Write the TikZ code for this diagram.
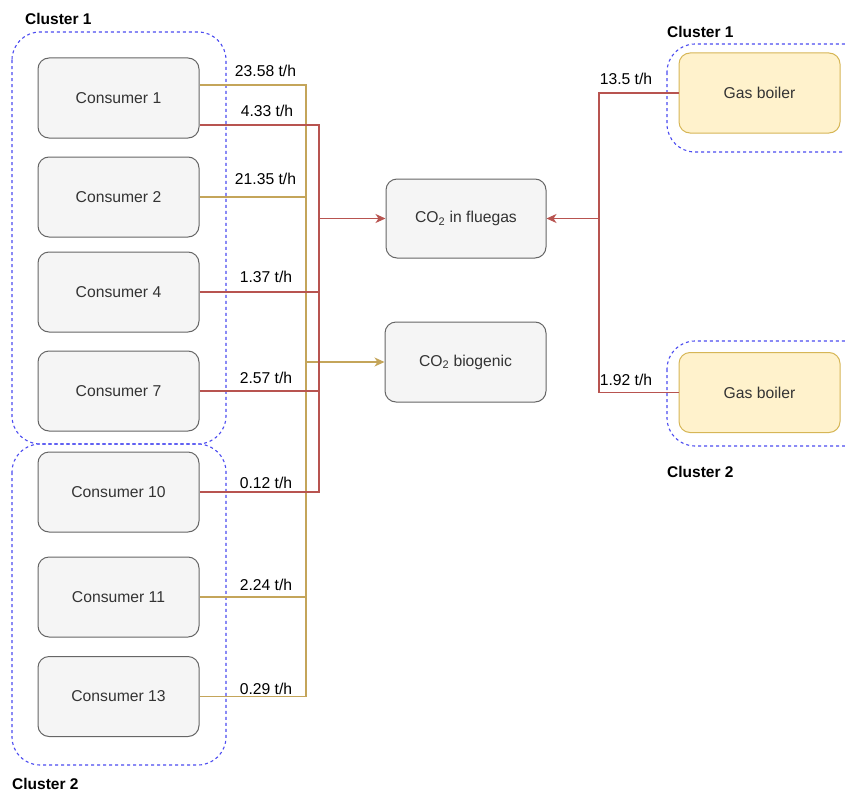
\documentclass[tikz,border=0pt]{standalone}
\usepackage{fontspec}
\setmainfont{Liberation Sans}
\usetikzlibrary{positioning,arrows.meta}
\definecolor{boxfill}{HTML}{F5F5F5}
\definecolor{boxdraw}{HTML}{666666}
\definecolor{boilfill}{HTML}{FFF2CC}
\definecolor{golddraw}{HTML}{D6B656}
\definecolor{goldline}{HTML}{C4A55A}
\definecolor{redline}{HTML}{B85450}
\definecolor{clusterblue}{HTML}{4B4BF0}
\begin{document}
\begin{tikzpicture}[x=1pt, y=-1pt, >={Stealth[length=10pt, width=9pt, inset=3pt]},
    every node/.style={font=\fontsize{15.7}{18}\selectfont},
    unit/.style={draw=boxdraw, fill=boxfill, text=black!80, rounded corners=11pt, minimum width=161pt, minimum height=80pt, line width=1pt},
    boiler/.style={unit, draw=golddraw, fill=boilfill},
    cluster/.style={draw=clusterblue, dashed, dash pattern=on 3pt off 3pt, rounded corners=28pt, line width=1.1pt},
    clname/.style={anchor=west, inner sep=0pt, font=\fontsize{15.5}{18}\selectfont\bfseries},
    rate/.style={inner sep=0pt},
    goldln/.style={draw=goldline, line width=1.2pt},
    redln/.style={draw=redline, line width=1.2pt}]
  \clip (0,0) rectangle (845,792);
  \useasboundingbox (0,0) rectangle (845,792);
  % clusters
  \draw[cluster] (12,32) rectangle (226,444);
  \draw[cluster] (12,444) rectangle (226,765);
  \draw[cluster] (667,44) rectangle (875,152);
  \draw[cluster] (667,341) rectangle (875,446);
  \node[clname] (cl1) at (25,19) {Cluster 1};
  \node[clname] (cl2) at (12,784) {Cluster 2};
  \node[clname] (cl1r) at (667,32) {Cluster 1};
  \node[clname] (cl2r) at (667,472) {Cluster 2};
  % consumers
  \node[unit] (c1) at (118.5,98) {Consumer 1};
  \node[unit] (c2) at (118.5,197) {Consumer 2};
  \node[unit] (c4) at (118.5,292) {Consumer 4};
  \node[unit] (c7) at (118.5,391) {Consumer 7};
  \node[unit] (c10) at (118.5,492) {Consumer 10};
  \node[unit] (c11) at (118.5,597) {Consumer 11};
  \node[unit] (c13) at (118.5,696.5) {Consumer 13};
  % sinks and boilers
  \node[unit, minimum width=160pt, minimum height=79pt] (flue) at (466,218.5) {CO\textsubscript{2} in fluegas};
  \node[unit] (bio) at (465.5,362) {CO\textsubscript{2} biogenic};
  \node[boiler] (gb1) at (759.5,93) {Gas boiler};
  \node[boiler] (gb2) at (759.5,392.5) {Gas boiler};
  \coordinate (gbus) at (306,0);
  \coordinate (rbus) at (319,0);
  \coordinate (rbus2) at (599,0);
  % biogenic flows
  \draw[goldln] ([yshift=13pt]c1.east) -| (gbus |- c13) -- (c13.east);
  \draw[goldln] (c2.east) -- (gbus |- c2);
  \draw[goldln] (c11.east) -- (gbus |- c11);
  \draw[goldln, ->] (gbus |- bio) -- (bio.west);
  % fossil flows
  \draw[redln] ([yshift=-27pt]c1.east) -| (rbus |- c10) -- (c10.east);
  \draw[redln] (c4.east) -- (rbus |- c4);
  \draw[redln] (c7.east) -- (rbus |- c7);
  \draw[redln, ->] (rbus |- flue) -- (flue.west);
  \draw[redln] (gb1.west) -| (rbus2 |- gb2) -- (gb2.west);
  \draw[redln, ->] (rbus2 |- flue) -- (flue.east);
  % rates
  \node[rate] (r1) at (265.5,71) {23.58 t/h};
  \node[rate] (r2) at (267,111) {4.33 t/h};
  \node[rate] (r3) at (265.5,179) {21.35 t/h};
  \node[rate] (r4) at (266,277) {1.37 t/h};
  \node[rate] (r5) at (266,378) {2.57 t/h};
  \node[rate] (r6) at (266,483) {0.12 t/h};
  \node[rate] (r7) at (266,585) {2.24 t/h};
  \node[rate] (r8) at (266,689) {0.29 t/h};
  \node[rate] (r9) at (626,79) {13.5 t/h};
  \node[rate] (r10) at (626,380) {1.92 t/h};
\end{tikzpicture}
\end{document}
